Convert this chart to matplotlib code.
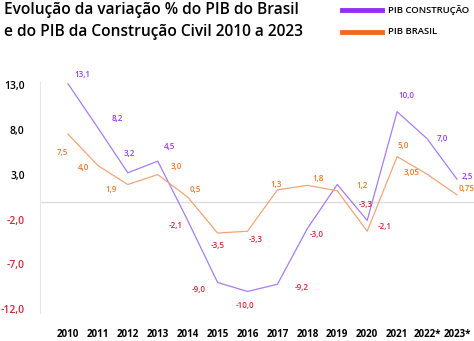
import matplotlib
matplotlib.use("Agg")
import matplotlib.pyplot as plt

plt.rcParams['font.family'] = ['Open Sans', 'DejaVu Sans']

anos = list(range(2010, 2024))
rotulos_anos = ['2010', '2011', '2012', '2013', '2014', '2015', '2016',
                '2017', '2018', '2019', '2020', '2021', '2022*', '2023*']

# variação %
pib_construcao = [13.1, 8.2, 3.2, 4.5, -2.1, -9.0, -10.0, -9.2, -3.0, 1.9, -2.1, 10.0, 7.0, 2.5]
rot_construcao = ['13,1', '8,2', '3,2', '4,5', '-2,1', '-9,0', '-10,0', '-9,2', '-3,0', '', '-2,1', '10,0', '7,0', '2,5']
pib_brasil = [7.5, 4.0, 1.9, 3.0, 0.5, -3.5, -3.3, 1.3, 1.8, 1.2, -3.3, 5.0, 3.05, 0.75]
rot_brasil = ['7,5', '4,0', '1,9', '3,0', '0,5', '-3,5', '-3,3', '1,3', '1,8', '1,2', '-3,3', '5,0', '3,05', '0,75']

yticks = [13, 8, 3, -2, -7, -12]

# deslocamento dos rótulos em pixels (dx, dy)
desl_construcao = [(14, 9), (19, 9), (1, 19), (12, 15), (-12, -5), (-19, -7), (-2, -14),
                   (24, -3), (9, -6), (0, 0), (18, -6), (9, 16), (15, 0), (10, 3)]
desl_brasil = [(-6, -18), (-14, -2), (-17, -5), (19, 8), (8, 8), (0, -12), (8, -8),
               (-1, 5), (11, 7), (25, 5), (-1, 27), (6, 11), (-15, 2), (10, 6)]

roxo = '#9a3cf6'
laranja = '#f0772a'
vermelho = '#d7263d'

fig = plt.figure(figsize=(4.74, 3.41), dpi=100)
ax = fig.add_axes([0.0844, 0.082, 0.9156, 0.6775])

ax.axhline(0, color='#dddddd', lw=1, zorder=1)
ax.plot(anos, pib_construcao, color='#a77cf2', lw=0.9, zorder=2)
ax.plot(anos, pib_brasil, color='#f2a577', lw=0.9, zorder=2)

for x, y, t, d in zip(anos, pib_construcao, rot_construcao, desl_construcao):
    if t:
        ax.annotate(t, (x, y), xytext=d, textcoords='offset pixels', ha='center', va='center',
                    fontsize=5.8, fontweight='semibold', color=vermelho if y < 0 else roxo)
for x, y, t, d in zip(anos, pib_brasil, rot_brasil, desl_brasil):
    ax.annotate(t, (x, y), xytext=d, textcoords='offset pixels', ha='center', va='center',
                fontsize=5.8, fontweight='semibold', color=vermelho if y < 0 else laranja)

ax.set_xlim(2009.064, 2023.57)
ax.set_ylim(-12.4, 13.3)
ax.set_xticks(anos)
ax.set_xticklabels(rotulos_anos, fontsize=7, fontweight='bold')
ax.set_yticks(yticks)
ax.set_yticklabels([('%.1f' % v).replace('.', ',') for v in yticks], fontsize=7.5, fontweight='semibold')
for lbl, v in zip(ax.get_yticklabels(), yticks):
    lbl.set_color(vermelho if v < 0 else 'black')
ax.tick_params(axis='both', length=0)
ax.tick_params(axis='y', pad=11)
ax.tick_params(axis='x', pad=11.5)

for s in ['top', 'right', 'bottom']:
    ax.spines[s].set_visible(False)
ax.spines['left'].set_color('#e6e6e6')

fig.text(0.008, 1 - 14 / 341, 'Evolução da variação % do PIB do Brasil',
         fontsize=11.2, fontweight='semibold', va='baseline', ha='left')
fig.text(0.008, 1 - 36 / 341, 'e do PIB da Construção Civil 2010 a 2023',
         fontsize=11.2, fontweight='semibold', va='baseline', ha='left')

# legenda
fig.add_artist(plt.Line2D([342 / 474, 382 / 474], [1 - 10 / 341, 1 - 10 / 341], color='#9130f5', lw=3.5))
fig.add_artist(plt.Line2D([342 / 474, 382 / 474], [1 - 32 / 341, 1 - 32 / 341], color='#f26b1d', lw=3.5))
fig.text(388 / 474, 1 - 10 / 341, 'PIB CONSTRUÇÃO', fontsize=6.8, fontweight='semibold', va='center')
fig.text(388 / 474, 1 - 32 / 341, 'PIB BRASIL', fontsize=6.8, fontweight='semibold', va='center')

fig.savefig('out.png', dpi=100)
